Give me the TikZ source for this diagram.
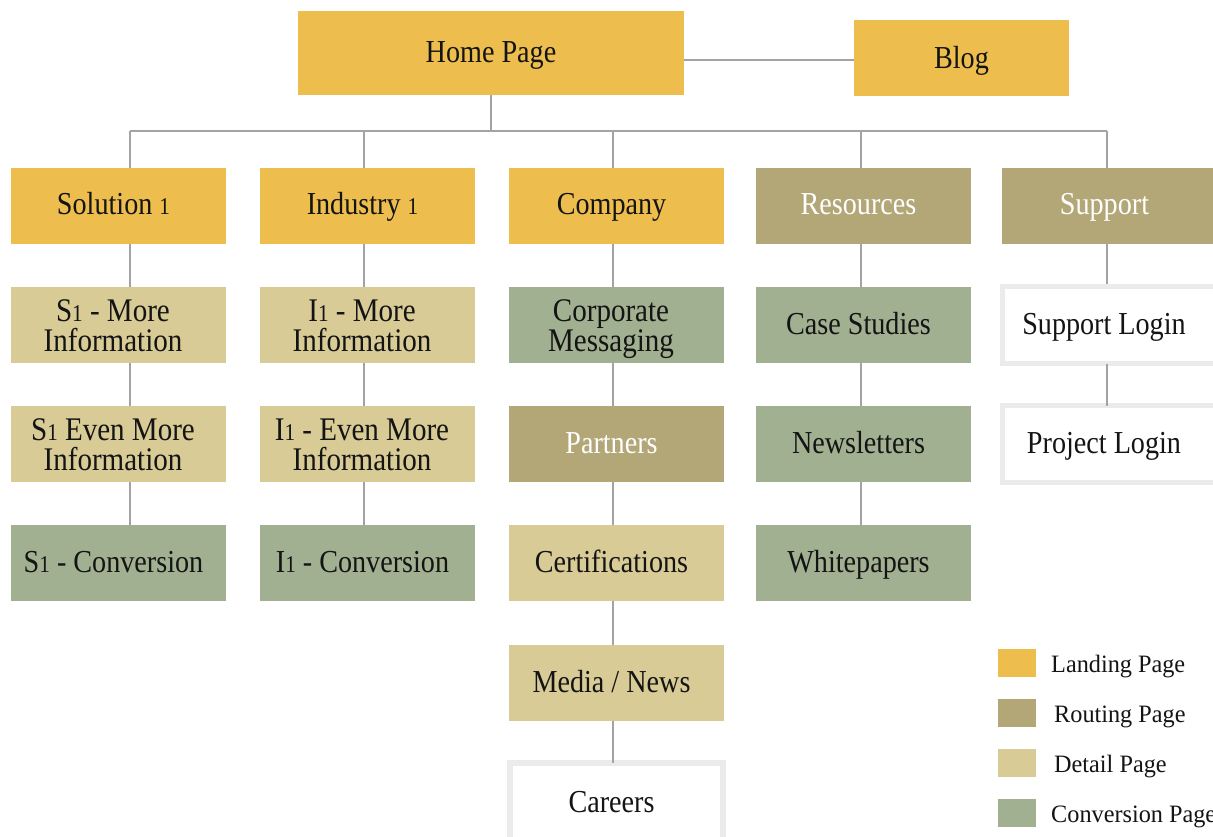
\documentclass[tikz,border=0pt]{standalone}
\usepackage{fontspec}
\setmainfont{Liberation Serif}[FakeStretch=0.88]
\newfontfamily\keyfont{Liberation Serif}[FakeStretch=0.97]
\definecolor{landing}{HTML}{EDBE4E}
\definecolor{routing}{HTML}{B3A677}
\definecolor{detail}{HTML}{D8CB96}
\definecolor{conversion}{HTML}{A0B090}
\definecolor{frame}{HTML}{EBEBEB}
\definecolor{wire}{HTML}{A3A3A3}
\definecolor{ink}{HTML}{141414}
% old-style looking figure one
\newcommand{\oldone}{{\fontsize{24}{24}\selectfont 1}}
\tikzset{
  page/.style={minimum width=215, minimum height=76, inner sep=0pt},
  landingbox/.style={page, fill=landing},
  routingbox/.style={page, fill=routing},
  detailbox/.style={page, fill=detail},
  convbox/.style={page, fill=conversion},
  loginbox/.style={page, fill=white, draw=frame, line width=5.5pt, minimum width=213, minimum height=77},
  caption/.style={anchor=base, inner sep=0pt, align=center, text=ink,
    font=\fontsize{32}{30}\selectfont},
  captiontwo/.style={caption, font=\fontsize{33}{30}\selectfont},
  onrouting/.style={text=white},
  wirel/.style={draw=wire, line width=1.1pt},
  swatch/.style={minimum width=38, minimum height=28, inner sep=0pt},
  legendtext/.style={anchor=base west, inner sep=0pt, text=ink, font=\keyfont\fontsize{25}{28}\selectfont},
}
% box with a one-line caption: style, name, x, y, caption options, text
\newcommand{\sitepage}[6]{%
  \node[#1] (#2) at (#3,#4) {};
  \node[caption, #5] (#2-t) at ([shift={(-5,9)}]#2.center) {#6};}
% box with a two-line caption (placed by the baseline of its second line)
\newcommand{\sitepagetwo}[6]{%
  \node[#1] (#2) at (#3,#4) {};
  \node[captiontwo, #5] (#2-t) at ([shift={(-5.5,26.5)}]#2.center) {#6};}
\begin{document}
\begin{tikzpicture}[x=1pt, y=-1pt]
\useasboundingbox (0,0) rectangle (1213,837);
\clip (0,0) rectangle (1213,837);
\fill[white] (0,0) rectangle (1213,837);

% top level
\node[landingbox, minimum width=386, minimum height=84] (home) at (491,53) {};
\node[caption] (home-t) at ([yshift=-10pt]home.center) {Home Page};
\node[landingbox] (blog) at (961.5,58) {};
\node[caption] (blog-t) at ([yshift=-11pt]blog.center) {Blog};

% column axes and the bus
\coordinate (colS) at (130,131);
\coordinate (colI) at (364,131);
\coordinate (colC) at (613,131);
\coordinate (colR) at (861,131);
\coordinate (colP) at (1107,131);

% first row
\sitepage{landingbox}{sol}{118.5}{206}{}{Solution \oldone}
\sitepage{landingbox}{ind}{367.5}{206}{}{Industry \oldone}
\sitepage{landingbox}{comp}{616.5}{206}{}{Company}
\sitepage{routingbox}{res}{863.5}{206}{onrouting}{Resources}
\sitepage{routingbox}{sup}{1109.5}{206}{onrouting}{Support}

% solution column
\sitepagetwo{detailbox}{s1a}{118.5}{325}{}{S\oldone{} - More\\Information}
\sitepagetwo{detailbox}{s1b}{118.5}{444}{}{S\oldone{} Even More\\Information}
\sitepage{convbox}{s1c}{118.5}{563}{}{S\oldone{} - Conversion}

% industry column
\sitepagetwo{detailbox}{i1a}{367.5}{325}{}{I\oldone{} - More\\Information}
\sitepagetwo{detailbox}{i1b}{367.5}{444}{}{I\oldone{} - Even More\\Information}
\sitepage{convbox}{i1c}{367.5}{563}{}{I\oldone{} - Conversion}

% company column
\sitepagetwo{convbox}{corp}{616.5}{325}{}{Corporate\\Messaging}
\sitepage{routingbox}{part}{616.5}{444}{onrouting}{Partners}
\sitepage{detailbox}{cert}{616.5}{563}{}{Certifications}
\sitepage{detailbox}{media}{616.5}{683}{}{Media / News}
\sitepage{loginbox, minimum height=80}{car}{616.5}{803}{}{Careers}

% resources column
\sitepage{convbox}{case}{863.5}{325}{}{Case Studies}
\sitepage{convbox}{news}{863.5}{444}{}{Newsletters}
\sitepage{convbox}{white}{863.5}{563}{}{Whitepapers}

% support column
\sitepage{loginbox}{slog}{1109}{325}{}{Support Login}
\sitepage{loginbox}{plog}{1109}{444}{}{Project Login}

% connectors
\draw[wirel] (home.east |- 0,60) -- (blog.west |- 0,60);
\draw[wirel] (home.south) -- (home.south |- colS);
\draw[wirel] (colS) -- (colP);
\foreach \c/\n in {colS/sol, colI/ind, colC/comp, colR/res, colP/sup}
  \draw[wirel] (\c) -- (\c |- \n.north);
\foreach \c/\a/\b in {colS/sol/s1a, colS/s1a/s1b, colS/s1b/s1c,
                      colI/ind/i1a, colI/i1a/i1b, colI/i1b/i1c,
                      colC/comp/corp, colC/corp/part, colC/part/cert, colC/cert/media,
                      colR/res/case, colR/case/news, colR/news/white,
                      colP/sup/slog}
  \draw[wirel] (\c |- \a.south) -- (\c |- \b.north);
\draw[wirel] (colC |- media.south) -- ([yshift=-2.75pt]colC |- car.north);
\draw[wirel] ([yshift=2.75pt]colP |- slog.south) -- ([yshift=-2.75pt]colP |- plog.north);

% legend
\node[swatch, fill=landing] (k1) at (1017,663) {};
\node[swatch, fill=routing] (k2) at (1017,713) {};
\node[swatch, fill=detail] (k3) at (1017,763) {};
\node[swatch, fill=conversion] (k4) at (1017,813) {};
\node[legendtext] (t1) at (1051,672) {Landing Page};
\node[legendtext] (t2) at (1054,722) {Routing Page};
\node[legendtext] (t3) at (1054,772) {Detail Page};
\node[legendtext] (t4) at (1051,822) {Conversion Page};
\end{tikzpicture}
\end{document}
